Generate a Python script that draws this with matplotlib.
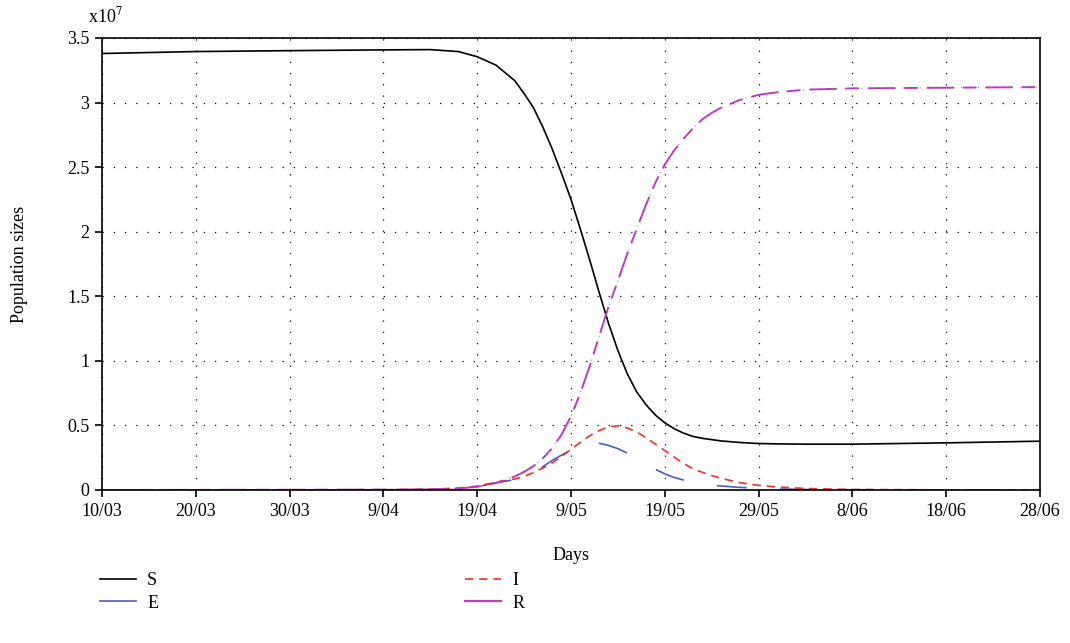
import matplotlib
matplotlib.use("Agg")
import matplotlib.pyplot as plt
from matplotlib.lines import Line2D

plt.rcParams['font.family'] = ['Liberation Serif', 'DejaVu Serif']
plt.rcParams['mathtext.fontset'] = 'stix'

# Data (population in units of 1e7), by position along the time axis (10 units per tick)
days = [0, 10, 20, 30, 35, 38, 40, 42, 44, 45, 46, 47, 48, 49, 50, 51, 52, 53, 54, 55,
        56, 57, 58, 59, 60, 61, 62, 63, 64, 65, 66, 68, 70, 72, 75, 80, 90, 100]
S = [3.38, 3.395, 3.402, 3.408, 3.41, 3.395, 3.355, 3.29, 3.17, 3.07, 2.96, 2.81, 2.64, 2.45,
     2.25, 2.02, 1.78, 1.53, 1.29, 1.08, 0.90, 0.76, 0.66, 0.58, 0.52, 0.475, 0.44, 0.415, 0.40,
     0.39, 0.38, 0.368, 0.36, 0.357, 0.355, 0.355, 0.365, 0.378]
E = [0, 0, 0.001, 0.002, 0.005, 0.012, 0.025, 0.055, 0.08, 0.095, 0.13, 0.18, 0.23, 0.27,
     0.31, 0.345, 0.36, 0.362, 0.345, 0.32, 0.285, 0.245, 0.20, 0.16, 0.125, 0.097, 0.077,
     0.06, 0.047, 0.038, 0.031, 0.02, 0.013, 0.008, 0.004, 0.002, 0.001, 0]
I = [0, 0, 0.001, 0.002, 0.006, 0.015, 0.03, 0.06, 0.085, 0.105, 0.135, 0.17, 0.21, 0.26,
     0.315, 0.37, 0.42, 0.46, 0.488, 0.497, 0.48, 0.45, 0.405, 0.355, 0.305, 0.255, 0.205,
     0.165, 0.137, 0.112, 0.09, 0.057, 0.036, 0.023, 0.012, 0.004, 0.001, 0]
R = [0, 0.001, 0.002, 0.003, 0.005, 0.012, 0.025, 0.055, 0.105, 0.14, 0.185, 0.245, 0.325,
     0.43, 0.57, 0.75, 0.96, 1.19, 1.42, 1.62, 1.83, 2.02, 2.21, 2.38, 2.52, 2.63, 2.72, 2.80,
     2.87, 2.92, 2.96, 3.02, 3.06, 3.08, 3.10, 3.11, 3.115, 3.12]

xtick_pos = [0, 10, 20, 30, 40, 50, 60, 70, 80, 90, 100]
xtick_labels = ['10/03', '20/03', '30/03', '9/04', '19/04', '9/05', '19/05', '29/05',
                '8/06', '18/06', '28/06']
yticks = [0, 0.5, 1, 1.5, 2, 2.5, 3, 3.5]

c_S = 'black'
c_E = '#4a5cc0'
c_I = '#e8322a'
c_R = '#c23cc2'

fig = plt.figure(figsize=(10.7, 6.43), dpi=100)
ax = fig.add_axes([102/1070, 1 - 490/643, 938/1070, 452/643])

ax.plot(days, S, color=c_S, lw=1.2)
ax.plot(days, E, color=c_E, lw=1.2, linestyle=(0, (18, 20)))
ax.plot(days, I, color=c_I, lw=1.2, linestyle=(0, (5, 3.5)))
ax.plot(days, R, color=c_R, lw=1.4, linestyle=(0, (14, 4.6, 7, 4.6)))
ax.plot(days, R, color='#444444', lw=0.6, linestyle=(0, (1, 9)))

ax.set_xlim(0, 100)
ax.set_ylim(0, 3.5)
ax.set_xticks(xtick_pos)
ax.set_xticklabels(xtick_labels)
ax.set_yticks(yticks)
ax.set_yticklabels(['%g' % v for v in yticks])
ax.tick_params(direction='out', length=5, width=1.2, labelsize=13, pad=4,
               top=False, right=False)
for sp in ax.spines.values():
    sp.set_linewidth(1.2)

ax.grid(True, color='black', linestyle=(0, (1, 8)), linewidth=0.9)

ax.set_xlabel('Days', fontsize=13, labelpad=20)
ax.set_ylabel('Population sizes', fontsize=13, labelpad=28)
fig.text(88/1070, 1 - 22/643, r'x10$^{7}$', fontsize=13, ha='left', va='baseline')

handles = [Line2D([], [], color=c_S, lw=1.2),
           Line2D([], [], color=c_E, lw=1.2),
           Line2D([], [], color=c_I, lw=1.2, linestyle=(0, (5, 3.5))),
           Line2D([], [], color=c_R, lw=1.6)]
fig.legend(handles, ['S', 'E', 'I', 'R'], loc='upper left', ncol=2,
           bbox_to_anchor=(84/1070, 1 - 556/643), frameon=False, fontsize=13,
           handlelength=2.0, handletextpad=0.6, columnspacing=17.0, labelspacing=0.3)

fig.savefig('out.png', dpi=100)
